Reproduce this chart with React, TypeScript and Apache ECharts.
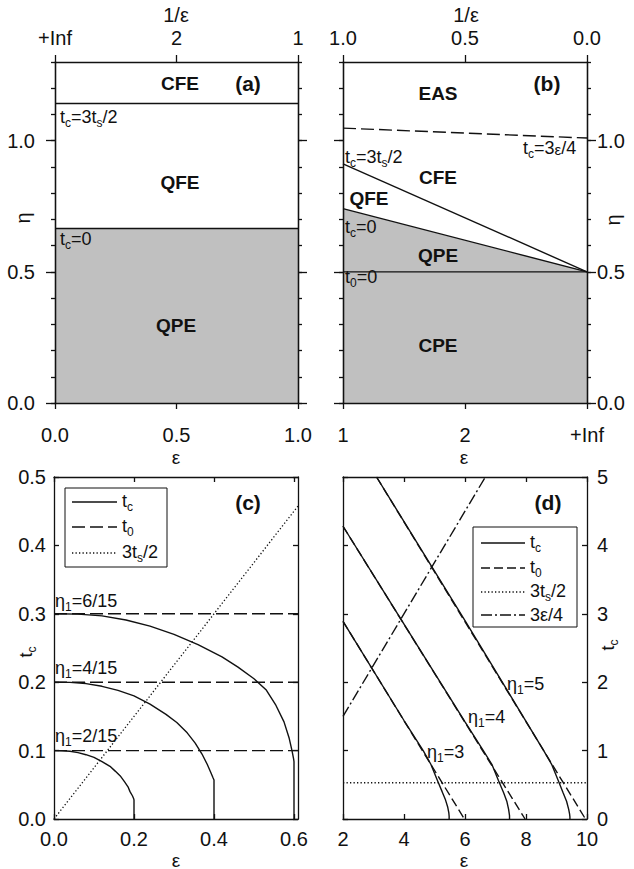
import React, { useEffect, useRef } from 'react';
import * as echarts from 'echarts';

const FONT = '"Liberation Sans", Arial, Helvetica, sans-serif';
const INK = '#111111';
const GRAY = '#c0c0c0';

// ---------- tick values and labels ----------
const aXTicks = [0, 0.5, 1];
const aXBottomLabels = ['0.0', '0.5', '1.0'];
const aXTopLabels = ['+Inf', '2', '1'];
const bXTicks = [0, 0.5, 1];
const bXBottomLabels = ['1', '2', '+Inf'];
const bXTopLabels = ['1.0', '0.5', '0.0'];
const etaMajorTicks = [0, 0.5, 1.0];
const etaMajorLabels = ['0.0', '0.5', '1.0'];
const etaMinorTicks = [0, 0.1, 0.2, 0.3, 0.4, 0.5, 0.6, 0.7, 0.8, 0.9, 1.0, 1.1, 1.2, 1.3];
const cXTicks = [0, 0.2, 0.4, 0.6];
const cXLabels = ['0.0', '0.2', '0.4', '0.6'];
const cYTicks = [0, 0.1, 0.2, 0.3, 0.4, 0.5];
const cYLabels = ['0.0', '0.1', '0.2', '0.3', '0.4', '0.5'];
const dXTicks = [2, 4, 6, 8, 10];
const dXLabels = ['2', '4', '6', '8', '10'];
const dYTicks = [0, 1, 2, 3, 4, 5];
const dYLabels = ['0', '1', '2', '3', '4', '5'];

// ---------- panel (a): eps in [0,1] ----------
const aEps = [0, 1];
const aTc0 = [0.665, 0.665];
const aTc32 = [1.142, 1.142];

// ---------- panel (b): x = 1 - 1/eps ----------
const bX = [0, 1];
const bTc0 = [0.741, 0.5];
const bTc32 = [0.912, 0.5];
const bT0 = [0.5, 0.5];
const bTc34 = [1.048, 1.01];

// ---------- panel (c) ----------
const c1Eps = [0, 0.02, 0.04, 0.06, 0.08, 0.1, 0.12, 0.14, 0.153, 0.167, 0.177, 0.185, 0.19, 0.196, 0.199, 0.2, 0.2];
const c1Tc = [0.1, 0.0998, 0.099, 0.097, 0.094, 0.09, 0.084, 0.077, 0.07, 0.062, 0.054, 0.047, 0.04, 0.034, 0.03, 0.028, 0];
const c2Eps = [0, 0.04, 0.08, 0.12, 0.16, 0.2, 0.24, 0.28, 0.307, 0.333, 0.353, 0.37, 0.383, 0.392, 0.397, 0.4, 0.4];
const c2Tc = [0.2, 0.1997, 0.198, 0.194, 0.188, 0.18, 0.168, 0.153, 0.141, 0.126, 0.111, 0.095, 0.08, 0.068, 0.061, 0.057, 0];
const c3Eps = [0, 0.06, 0.12, 0.18, 0.24, 0.3, 0.36, 0.42, 0.46, 0.5, 0.53, 0.555, 0.575, 0.588, 0.595, 0.599, 0.6, 0.6];
const c3Tc = [0.3, 0.2995, 0.297, 0.291, 0.282, 0.27, 0.255, 0.237, 0.222, 0.205, 0.189, 0.166, 0.142, 0.118, 0.1, 0.088, 0.084, 0];
const cT0Levels = [0.1, 0.2, 0.3];
const cT0Eps = [0, 0.61];
const cTsEps = [0, 0.61];
const cTs = [0, 0.4575];

// ---------- panel (d) ----------
const d3Eps = [2, 4, 4.63, 4.88, 5.1, 5.25, 5.36, 5.43, 5.47, 5.48, 5.48];
const d3Tc = [2.89, 1.44, 1.0, 0.8, 0.56, 0.4, 0.28, 0.18, 0.09, 0.04, 0];
const d4Eps = [2, 4, 6, 6.6, 6.88, 7.1, 7.27, 7.37, 7.43, 7.46, 7.46];
const d4Tc = [4.28, 2.85, 1.42, 1.0, 0.8, 0.56, 0.38, 0.26, 0.14, 0.05, 0];
const d5Eps = [3.1, 6, 8.58, 8.84, 9.06, 9.22, 9.33, 9.4, 9.43, 9.44, 9.44];
const d5Tc = [5, 2.9, 1.0, 0.8, 0.56, 0.38, 0.26, 0.14, 0.07, 0.03, 0];
const d3T0Eps = [2, 5.98];
const d3T0 = [2.89, 0];
const d4T0Eps = [2, 7.97];
const d4T0 = [4.28, 0];
const d5T0Eps = [3.1, 9.95];
const d5T0 = [5, 0];
const dTsEps = [2, 10];
const dTs = [0.53, 0.53];
const dQuarterEps = [2, 6.667];
const dQuarter = [1.5, 5];

const labelFor = (vals: number[], labs: string[]) => (v: number) => {
  const i = vals.findIndex((t) => Math.abs(t - v) < 1e-9);
  return i >= 0 ? labs[i] : '';
};

function mkAxis(p: any) {
  return {
    type: 'value',
    gridIndex: p.grid,
    position: p.position,
    min: p.min,
    max: p.max,
    z: 5,
    axisLine: { show: true, onZero: false, lineStyle: { color: INK, width: 1.3 } },
    axisTick: {
      show: true,
      inside: p.inside,
      length: p.len,
      customValues: p.ticks,
      lineStyle: { color: INK, width: 1.3 },
    },
    axisLabel: p.labels
      ? {
          show: true,
          customValues: p.ticks,
          formatter: labelFor(p.ticks, p.labels),
          margin: p.margin,
          color: INK,
          fontSize: 20,
          lineHeight: 18,
          fontFamily: FONT,
        }
      : { show: false },
    splitLine: { show: false },
    minorTick: { show: false },
  };
}

const zip = (xs: number[], ys: number[]) => xs.map((x, i) => [x, ys[i]]);

function lineSeries(xi: number, yi: number, xs: number[], ys: number[], type: any, extra: any = {}) {
  return {
    type: 'line',
    xAxisIndex: xi,
    yAxisIndex: yi,
    data: zip(xs, ys),
    symbol: 'none',
    showSymbol: false,
    silent: true,
    z: 3,
    lineStyle: { color: INK, width: 1.4, type },
    ...extra,
  };
}

const RICH = {
  m: { fontSize: 18, fontFamily: FONT, fill: INK, verticalAlign: 'top' },
  e: { fontSize: 15, fontFamily: FONT, fill: INK, verticalAlign: 'top', padding: [3, 0, 0, 0] },
  s: { fontSize: 12, fontFamily: FONT, fill: INK, verticalAlign: 'top', padding: [9, 0, 0, 0] },
};

function txt(x: number, y: number, text: string, o: any = {}) {
  const align = o.align || 'center';
  return {
    type: 'text',
    x,
    y,
    rotation: o.rotation || 0,
    z: 100,
    silent: true,
    style: {
      text,
      fill: INK,
      fontSize: o.size || 20,
      fontFamily: FONT,
      fontWeight: o.bold ? 'bold' : 'normal',
      align,
      textAlign: align,
      verticalAlign: 'middle',
      textVerticalAlign: 'middle',
      lineHeight: o.lh,
      rich: o.rich ? RICH : undefined,
    },
  };
}

function legendEntry(x0: number, x1: number, y: number, dash: any, label: string) {
  return [
    {
      type: 'line',
      z: 101,
      silent: true,
      shape: { x1: x0, y1: y, x2: x1, y2: y },
      style: { stroke: INK, lineWidth: 1.4, lineDash: dash },
    },
    txt(x1 + 5, y, label, { align: 'left', rich: true }),
  ];
}

export default function App() {
  const ref = useRef<HTMLDivElement>(null);
  useEffect(() => {
    if (!ref.current) return;
    const chart = echarts.init(ref.current, undefined, { renderer: 'svg' });

    const grids = [
      { left: 55, top: 62, width: 243, height: 341 },
      { left: 343, top: 62, width: 244, height: 341 },
      { left: 54, top: 477, width: 244, height: 342 },
      { left: 343, top: 477, width: 244, height: 342 },
    ];

    const xAxis = [
      mkAxis({ grid: 0, position: 'bottom', min: 0, max: 1, ticks: aXTicks, labels: aXBottomLabels, inside: false, len: 6, margin: 23 }),
      mkAxis({ grid: 0, position: 'top', min: 0, max: 1, ticks: aXTicks, labels: aXTopLabels, inside: false, len: 7, margin: 15 }),
      mkAxis({ grid: 1, position: 'bottom', min: 0, max: 1, ticks: bXTicks, labels: bXBottomLabels, inside: false, len: 6, margin: 23 }),
      mkAxis({ grid: 1, position: 'top', min: 0, max: 1, ticks: bXTicks, labels: bXTopLabels, inside: false, len: 7, margin: 15 }),
      mkAxis({ grid: 2, position: 'bottom', min: 0, max: 0.61, ticks: cXTicks, labels: cXLabels, inside: true, len: 5, margin: 11 }),
      mkAxis({ grid: 2, position: 'top', min: 0, max: 0.61, ticks: cXTicks, inside: true, len: 5 }),
      mkAxis({ grid: 3, position: 'bottom', min: 2, max: 10, ticks: dXTicks, labels: dXLabels, inside: true, len: 5, margin: 11 }),
      mkAxis({ grid: 3, position: 'top', min: 2, max: 10, ticks: dXTicks, inside: true, len: 5 }),
    ];

    const yAxis = [
      mkAxis({ grid: 0, position: 'left', min: 0, max: 1.3, ticks: etaMajorTicks, labels: etaMajorLabels, inside: false, len: 9, margin: 20 }),
      mkAxis({ grid: 0, position: 'left', min: 0, max: 1.3, ticks: etaMinorTicks, inside: false, len: 4 }),
      mkAxis({ grid: 0, position: 'right', min: 0, max: 1.3, ticks: etaMajorTicks, inside: false, len: 9 }),
      mkAxis({ grid: 0, position: 'right', min: 0, max: 1.3, ticks: etaMinorTicks, inside: false, len: 4 }),
      mkAxis({ grid: 1, position: 'left', min: 0, max: 1.3, ticks: etaMajorTicks, inside: false, len: 9 }),
      mkAxis({ grid: 1, position: 'left', min: 0, max: 1.3, ticks: etaMinorTicks, inside: false, len: 4 }),
      mkAxis({ grid: 1, position: 'right', min: 0, max: 1.3, ticks: etaMajorTicks, labels: etaMajorLabels, inside: false, len: 9, margin: 10 }),
      mkAxis({ grid: 1, position: 'right', min: 0, max: 1.3, ticks: etaMinorTicks, inside: false, len: 4 }),
      mkAxis({ grid: 2, position: 'left', min: 0, max: 0.5, ticks: cYTicks, labels: cYLabels, inside: true, len: 5, margin: 8 }),
      mkAxis({ grid: 2, position: 'right', min: 0, max: 0.5, ticks: cYTicks, inside: true, len: 5 }),
      mkAxis({ grid: 3, position: 'left', min: 0, max: 5, ticks: dYTicks, inside: true, len: 5 }),
      mkAxis({ grid: 3, position: 'right', min: 0, max: 5, ticks: dYTicks, labels: dYLabels, inside: true, len: 5, margin: 10 }),
    ];

    const DASH = [13, 5];
    const DOT = [1.3, 2.2];
    const DASHDOT = [11, 3, 2, 3];

    const series: any[] = [
      // (a)
      lineSeries(0, 0, aEps, aTc0, 'solid', { areaStyle: { color: GRAY, opacity: 1 }, z: 1 }),
      lineSeries(0, 0, aEps, aTc32, 'solid'),
      // (b)
      lineSeries(2, 4, bX, bTc0, 'solid', { areaStyle: { color: GRAY, opacity: 1 }, z: 1 }),
      lineSeries(2, 4, bX, bT0, 'solid'),
      lineSeries(2, 4, bX, bTc32, 'solid'),
      lineSeries(2, 4, bX, bTc34, DASH),
      // (c)
      lineSeries(4, 8, c1Eps, c1Tc, 'solid'),
      lineSeries(4, 8, c2Eps, c2Tc, 'solid'),
      lineSeries(4, 8, c3Eps, c3Tc, 'solid'),
      ...cT0Levels.map((lv) => lineSeries(4, 8, cT0Eps, [lv, lv], DASH)),
      lineSeries(4, 8, cTsEps, cTs, DOT, { lineStyle: { color: INK, width: 1.3, type: DOT } }),
      // (d)
      lineSeries(6, 10, d3Eps, d3Tc, 'solid'),
      lineSeries(6, 10, d4Eps, d4Tc, 'solid'),
      lineSeries(6, 10, d5Eps, d5Tc, 'solid'),
      lineSeries(6, 10, d3T0Eps, d3T0, [9, 4]),
      lineSeries(6, 10, d4T0Eps, d4T0, [9, 4]),
      lineSeries(6, 10, d5T0Eps, d5T0, [9, 4]),
      lineSeries(6, 10, dTsEps, dTs, DOT, { lineStyle: { color: INK, width: 1.3, type: DOT } }),
      lineSeries(6, 10, dQuarterEps, dQuarter, DASHDOT),
    ];

    const graphic: any[] = [
      // (a)
      txt(176, 15, '1/ε'),
      txt(180, 83, 'CFE', { bold: true, size: 19 }),
      txt(248, 83, '(a)', { bold: true, size: 21 }),
      txt(60, 118, '{m|t}{s|c}{m|=3t}{s|s}{m|/2}', { align: 'left', rich: true }),
      txt(180, 182, 'QFE', { bold: true, size: 19 }),
      txt(60, 240, '{m|t}{s|c}{m|=0}', { align: 'left', rich: true }),
      txt(176, 325, 'QPE', { bold: true, size: 19 }),
      txt(23, 218, 'η', { rotation: Math.PI / 2 }),
      txt(176, 457, 'ε', { size: 19, lh: 14 }),
      // (b)
      txt(466, 15, '1/ε'),
      txt(438, 93, 'EAS', { bold: true, size: 19 }),
      txt(547, 83, '(b)', { bold: true, size: 21 }),
      txt(523, 149, '{m|t}{s|c}{m|=3}{e|ε}{m|/4}', { align: 'left', rich: true }),
      txt(345, 158, '{m|t}{s|c}{m|=3t}{s|s}{m|/2}', { align: 'left', rich: true }),
      txt(438, 177, 'CFE', { bold: true, size: 19 }),
      txt(369, 198, 'QFE', { bold: true, size: 19 }),
      txt(345, 228, '{m|t}{s|c}{m|=0}', { align: 'left', rich: true }),
      txt(438, 255, 'QPE', { bold: true, size: 19 }),
      txt(345, 278, '{m|t}{s|0}{m|=0}', { align: 'left', rich: true }),
      txt(438, 345, 'CPE', { bold: true, size: 19 }),
      txt(613, 220, 'η', { rotation: Math.PI / 2 }),
      txt(464, 457, 'ε', { size: 19, lh: 14 }),
      // (c)
      txt(248, 502, '(c)', { bold: true, size: 21 }),
      {
        type: 'rect', z: 99, silent: true,
        shape: { x: 65, y: 488, width: 102, height: 79 },
        style: { fill: '#fff', stroke: INK, lineWidth: 1 },
      },
      ...legendEntry(72, 117, 502, null, '{m|t}{s|c}'),
      ...legendEntry(72, 117, 527, [13, 5], '{m|t}{s|0}'),
      ...legendEntry(72, 117, 553, [1.3, 2.2], '{m|3t}{s|s}{m|/2}'),
      txt(55, 602, '{m|η}{s|1}{m|=6/15}', { align: 'left', rich: true }),
      txt(55, 669, '{m|η}{s|1}{m|=4/15}', { align: 'left', rich: true }),
      txt(55, 737, '{m|η}{s|1}{m|=2/15}', { align: 'left', rich: true }),
      txt(27, 652, '{m|t}{s|c}', { rotation: Math.PI / 2, rich: true }),
      txt(176, 860, 'ε', { size: 19, lh: 12 }),
      // (d)
      txt(548, 502, '(d)', { bold: true, size: 21 }),
      {
        type: 'rect', z: 99, silent: true,
        shape: { x: 473, y: 527, width: 104, height: 100 },
        style: { fill: '#fff', stroke: INK, lineWidth: 1 },
      },
      ...legendEntry(481, 525, 543, null, '{m|t}{s|c}'),
      ...legendEntry(481, 525, 568, [9, 4], '{m|t}{s|0}'),
      ...legendEntry(481, 525, 592, [1.3, 2.2], '{m|3t}{s|s}{m|/2}'),
      ...legendEntry(481, 525, 615, [11, 3, 2, 3], '{m|3ε/4}'),
      txt(507, 685, '{m|η}{s|1}{m|=5}', { align: 'left', rich: true }),
      txt(468, 718, '{m|η}{s|1}{m|=4}', { align: 'left', rich: true }),
      txt(427, 753, '{m|η}{s|1}{m|=3}', { align: 'left', rich: true }),
      txt(609, 645, '{m|t}{s|c}', { rotation: Math.PI / 2, rich: true }),
      txt(464, 860, 'ε', { size: 19, lh: 12 }),
    ];

    chart.setOption({
      animation: false,
      backgroundColor: '#ffffff',
      grid: grids,
      xAxis,
      yAxis,
      series,
      graphic,
    });
    return () => chart.dispose();
  }, []);

  return (
    <div
      ref={ref}
      style={{ position: 'fixed', left: 0, top: 0, width: 634, height: 869, background: '#fff' }}
    />
  );
}
